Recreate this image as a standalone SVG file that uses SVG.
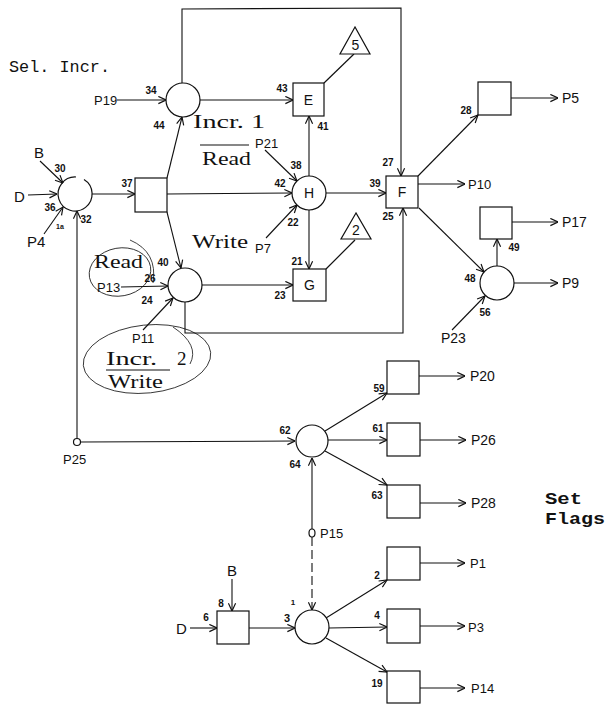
<svg xmlns="http://www.w3.org/2000/svg" width="607" height="705" viewBox="0 0 607 705">
<defs>
<marker id="a" viewBox="0 0 10 10" refX="9.5" refY="5" markerWidth="9" markerHeight="9" markerUnits="userSpaceOnUse" orient="auto">
<path d="M1,1 L9.5,5 L1,9" fill="none" stroke="#111" stroke-width="1.3"/>
</marker>
</defs>
<style>
.s{fill:none;stroke:#111;stroke-width:1.2}
.l{fill:none;stroke:#111;stroke-width:0.8}
.n{fill:#fff;stroke:#111;stroke-width:1.2}
.c{fill:none;stroke:#111;stroke-width:1.1;marker-end:url(#a)}
.num{font-family:"Liberation Sans",Arial,sans-serif;font-size:10px;font-weight:bold;fill:#111;text-anchor:middle}
.p{font-family:"Liberation Sans",Arial,sans-serif;font-size:13px;fill:#111}
.k{font-family:"Liberation Sans",Arial,sans-serif;font-size:14px;fill:#111;text-anchor:middle}
.sf{font-family:"Liberation Serif","Times New Roman",serif;font-size:19px;fill:#111}
.mo{font-family:"Liberation Mono","Courier New",monospace;font-size:17px;fill:#111}
.mb{font-family:"Liberation Mono","Courier New",monospace;font-size:17px;font-weight:bold;fill:#111}
</style>
<rect width="607" height="705" fill="#fff"/>

<g id="connectors">
<path class="c" d="M182,83 L182,9 L401,8 L401,176"/>
<path class="c" d="M185,302 L185,333 L403,333 L403,208"/>
<line class="c" x1="40" y1="161" x2="63" y2="183"/>
<line class="c" x1="28" y1="195" x2="57" y2="194"/>
<line class="c" x1="44" y1="234" x2="63" y2="207"/>
<path class="c" d="M77,439 L77,211"/>
<line class="c" x1="81" y1="442" x2="295" y2="441"/>
<line class="c" x1="92" y1="194" x2="135" y2="194"/>
<line class="c" x1="167" y1="178" x2="182" y2="117"/>
<line class="c" x1="167" y1="194" x2="292" y2="193"/>
<line class="c" x1="167" y1="212" x2="181" y2="268"/>
<line class="c" x1="117" y1="100" x2="166" y2="100"/>
<line class="c" x1="200" y1="100" x2="293" y2="100"/>
<line class="s" x1="324" y1="83" x2="354" y2="54"/>
<line class="c" x1="309" y1="176" x2="309" y2="116"/>
<line class="c" x1="309" y1="210" x2="309" y2="269"/>
<line class="c" x1="326" y1="193" x2="386" y2="193"/>
<line class="c" x1="265" y1="150" x2="297" y2="181"/>
<line class="c" x1="266" y1="238" x2="297" y2="205"/>
<line class="s" x1="326" y1="269" x2="355" y2="240"/>
<line class="c" x1="121" y1="287" x2="168" y2="286"/>
<line class="c" x1="143" y1="330" x2="173" y2="298"/>
<line class="c" x1="202" y1="285" x2="293" y2="285"/>
<line class="c" x1="418" y1="176" x2="478" y2="115"/>
<line class="c" x1="418" y1="184" x2="465" y2="184"/>
<line class="c" x1="419" y1="208" x2="484" y2="272"/>
<line class="c" x1="511" y1="98" x2="558" y2="98"/>
<line class="c" x1="497" y1="266" x2="497" y2="239"/>
<line class="c" x1="512" y1="222" x2="558" y2="222"/>
<line class="c" x1="514" y1="283" x2="558" y2="283"/>
<line class="c" x1="452" y1="330" x2="485" y2="296"/>
<line class="c" x1="325" y1="431" x2="387" y2="393"/>
<line class="c" x1="328" y1="440" x2="387" y2="440"/>
<line class="c" x1="325" y1="451" x2="387" y2="485"/>
<line class="c" x1="419" y1="376" x2="465" y2="376"/>
<line class="c" x1="420" y1="440" x2="466" y2="440"/>
<line class="c" x1="420" y1="503" x2="466" y2="503"/>
<line class="c" x1="312" y1="529" x2="312" y2="458"/>
<line class="c" x1="312" y1="537" x2="312" y2="610" stroke-dasharray="9 4"/>
<line class="c" x1="232" y1="579" x2="232" y2="611"/>
<line class="c" x1="190" y1="628" x2="217" y2="628"/>
<line class="c" x1="249" y1="628" x2="295" y2="628"/>
<line class="c" x1="326" y1="618" x2="387" y2="580"/>
<line class="c" x1="329" y1="628" x2="387" y2="627"/>
<line class="c" x1="326" y1="638" x2="387" y2="672"/>
<line class="c" x1="420" y1="563" x2="465" y2="563"/>
<line class="c" x1="420" y1="626" x2="465" y2="626"/>
<line class="c" x1="420" y1="688" x2="465" y2="688"/>
</g>

<g id="node-left-circle"><path class="s" d="M84,179.5 A17,17 0 1 1 76,177"/></g>
<g id="node-34"><circle class="n" cx="183" cy="100" r="17"/></g>
<g id="node-37"><rect class="n" x="135" y="178" width="32" height="34"/></g>
<g id="node-E"><rect class="n" x="293" y="83" width="31" height="33"/><text class="k" x="308.5" y="105">E</text></g>
<g id="node-tri5"><polygon class="n" points="355,27 340,54 370,54"/><text class="k" x="355.5" y="50">5</text></g>
<g id="node-H"><circle class="n" cx="309" cy="193" r="17"/><text class="k" x="309" y="198">H</text></g>
<g id="node-F"><rect class="n" x="386" y="176" width="32" height="32"/><text class="k" x="402" y="197">F</text></g>
<g id="node-40"><circle class="n" cx="185" cy="285" r="17"/></g>
<g id="node-G"><rect class="n" x="293" y="269" width="33" height="32"/><text class="k" x="309.5" y="290">G</text></g>
<g id="node-tri2"><polygon class="n" points="356,213 341,239 371,239"/><text class="k" x="356" y="235">2</text></g>
<g id="node-P5box"><rect class="n" x="478" y="82" width="33" height="33"/></g>
<g id="node-P17box"><rect class="n" x="480" y="207" width="32" height="32"/></g>
<g id="node-48"><circle class="n" cx="497" cy="283" r="17"/></g>
<g id="node-62"><circle class="n" cx="312" cy="441" r="16" stroke-width="0.8"/></g>
<g id="node-59"><rect class="n" x="387" y="361" width="32" height="33"/></g>
<g id="node-61"><rect class="n" x="387" y="423" width="33" height="33"/></g>
<g id="node-63"><rect class="n" x="387" y="485" width="33" height="33"/></g>
<g id="node-P25"><circle class="n" cx="77" cy="442" r="3.5"/></g>
<g id="node-P15"><ellipse class="n" cx="312" cy="533" rx="3" ry="4"/></g>
<g id="node-8"><rect class="n" x="217" y="611" width="32" height="33"/></g>
<g id="node-3"><circle class="n" cx="312" cy="627" r="17" stroke-width="0.9"/></g>
<g id="node-2"><rect class="n" x="387" y="547" width="33" height="33"/></g>
<g id="node-4"><rect class="n" x="387" y="609" width="33" height="34"/></g>
<g id="node-19"><rect class="n" x="387" y="671" width="33" height="32"/></g>

<g id="annotations">
<ellipse class="l" cx="120" cy="272" rx="31" ry="24" transform="rotate(-10 120 272)"/>
<path class="l" d="M130,240 Q158,252 153,283"/>
<ellipse class="l" cx="147" cy="359" rx="64" ry="34" transform="rotate(-6 147 359)"/>
<path class="l" d="M173,327 Q200,345 190,364"/>
<line class="s" x1="200" y1="145" x2="249" y2="145"/>
<line class="s" x1="106" y1="370" x2="170" y2="370"/>
<text class="sf" x="193" y="128" textLength="72" lengthAdjust="spacingAndGlyphs">Incr. 1</text>
<text class="sf" x="202" y="165" textLength="49" lengthAdjust="spacingAndGlyphs">Read</text>
<text class="sf" x="192" y="248" textLength="56" lengthAdjust="spacingAndGlyphs">Write</text>
<text class="sf" x="94" y="268" textLength="49" lengthAdjust="spacingAndGlyphs">Read</text>
<text class="sf" x="106" y="365" textLength="51" lengthAdjust="spacingAndGlyphs">Incr.</text>
<text class="sf" x="177" y="365">2</text>
<text class="sf" x="108" y="388" textLength="55" lengthAdjust="spacingAndGlyphs">Write</text>
<text class="mo" x="9" y="72" textLength="101" lengthAdjust="spacingAndGlyphs">Sel. Incr.</text>
<text class="mb" x="545" y="504" textLength="37" lengthAdjust="spacingAndGlyphs">Set</text>
<text class="mb" x="545" y="524" textLength="60" lengthAdjust="spacingAndGlyphs">Flags</text>
</g>

<g id="labels">
<text class="num" x="151" y="94">34</text>
<text class="num" x="159" y="129">44</text>
<text class="num" x="282" y="92">43</text>
<text class="num" x="60" y="172">30</text>
<text class="num" x="50" y="211">36</text>
<text class="num" x="127" y="187">37</text>
<text class="num" x="86" y="223">32</text>
<text class="num" x="60" y="229" style="font-size:7px">1a</text>
<text class="num" x="296" y="169">38</text>
<text class="num" x="280" y="187">42</text>
<text class="num" x="293" y="226">22</text>
<text class="num" x="323" y="130">41</text>
<text class="num" x="388" y="166">27</text>
<text class="num" x="375" y="187">39</text>
<text class="num" x="466" y="114">28</text>
<text class="num" x="388" y="220">25</text>
<text class="num" x="297" y="265">21</text>
<text class="num" x="280" y="299">23</text>
<text class="num" x="163" y="266">40</text>
<text class="num" x="150" y="282">26</text>
<text class="num" x="147" y="304">24</text>
<text class="num" x="514" y="251">49</text>
<text class="num" x="470" y="282">48</text>
<text class="num" x="485" y="316">56</text>
<text class="num" x="379" y="392">59</text>
<text class="num" x="285" y="434">62</text>
<text class="num" x="295" y="468">64</text>
<text class="num" x="378" y="432">61</text>
<text class="num" x="377" y="499">63</text>
<text class="num" x="221" y="607">8</text>
<text class="num" x="206" y="621">6</text>
<text class="num" x="287" y="622" style="font-size:11px">3</text>
<text class="num" x="293" y="605" style="font-size:8px">1</text>
<text class="num" x="377" y="579">2</text>
<text class="num" x="377" y="619">4</text>
<text class="num" x="377" y="687">19</text>

<text class="p" x="94" y="105">P19</text>
<text class="p" x="255" y="148">P21</text>
<text class="p" x="255" y="253">P7</text>
<text class="p" x="97" y="292">P13</text>
<text class="p" x="132" y="343">P11</text>
<text class="p" x="27" y="247" style="font-size:15px">P4</text>
<text class="p" x="441" y="343" style="font-size:14px">P23</text>
<text class="p" x="63" y="464">P25</text>
<text class="p" x="562" y="103" style="font-size:14px">P5</text>
<text class="p" x="468" y="189">P10</text>
<text class="p" x="562" y="227" style="font-size:14px">P17</text>
<text class="p" x="562" y="288" style="font-size:14px">P9</text>
<text class="p" x="470" y="381" style="font-size:14px">P20</text>
<text class="p" x="471" y="445" style="font-size:14px">P26</text>
<text class="p" x="471" y="508" style="font-size:14px">P28</text>
<text class="p" x="320" y="538">P15</text>
<text class="p" x="470" y="568">P1</text>
<text class="p" x="468" y="632">P3</text>
<text class="p" x="471" y="693">P14</text>
<text class="p" x="34" y="158" style="font-size:15px">B</text>
<text class="p" x="14" y="202" style="font-size:15px">D</text>
<text class="p" x="227" y="576" style="font-size:15px">B</text>
<text class="p" x="176" y="634" style="font-size:15px">D</text>
</g>
</svg>
